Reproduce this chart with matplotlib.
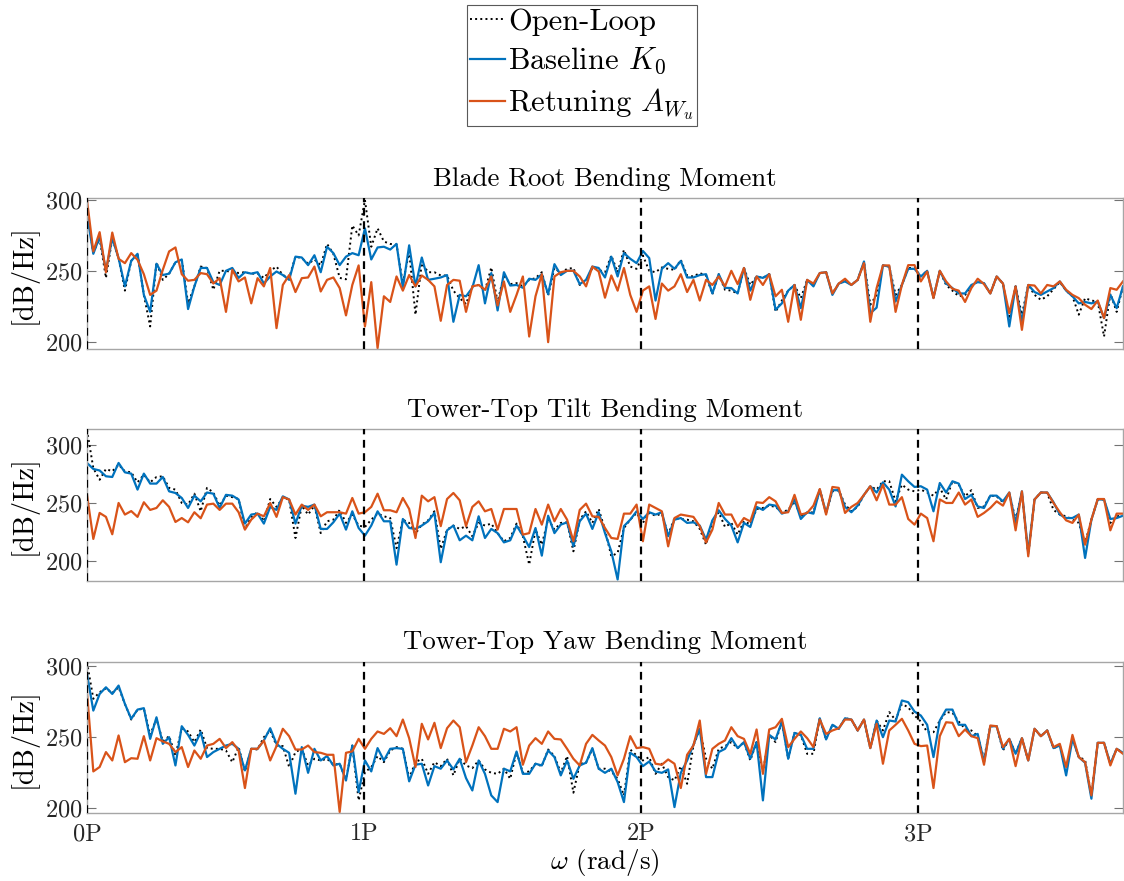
import numpy as np
import matplotlib.pyplot as plt

plt.rcParams['font.family'] = 'serif'
plt.rcParams['font.serif'] = ['cmr10']
plt.rcParams['mathtext.fontset'] = 'cm'
plt.rcParams['axes.formatter.use_mathtext'] = True

# frequency axis runs from 0P to the right edge of the plot (in multiples of P)
x_max = 3.74

# ---- Blade Root Bending Moment [dB/Hz] ----
blade_ol = [292, 263, 273, 245, 273, 259, 236, 257, 262, 233, 210.7, 256, 243.6, 248, 256, 258, 227, 239, 253, 252,
            236.6, 250, 250, 249, 248.5, 249, 248, 248, 245, 250, 253, 247, 245, 260, 259, 255, 258, 254, 269, 262,
            245, 244, 282, 275,
            300, 267, 280, 270.7, 269, 268.4, 241, 263.6, 219, 255.4, 249, 249, 246.7, 246.7, 236, 230.7, 226.5, 239,
            240, 236, 252.4, 228, 247, 240.6, 241.3, 239, 243.6, 244.8, 249, 232.6, 252, 248.4, 251.4, 252, 240, 243,
            252, 250.7, 249, 260.8, 249, 264.8, 253, 251.4, 260.8, 250, 249, 252.4, 251.4, 250.7, 257.8, 246.7, 246,
            248.4, 246.7, 233.5, 247.6, 236.6, 236, 234,
            252, 240, 246, 245, 247.6, 221, 229, 236, 240, 230.7, 243.6, 240, 248.4, 249, 234, 241, 243, 240, 243.6,
            256, 226, 233, 253.8, 253, 233, 240, 252, 252, 246, 250, 231, 250, 240, 236, 232, 233, 239, 243, 241,
            234, 246, 241, 216, 239, 219, 240, 233, 229.5, 232, 237, 242, 236, 232, 219, 230.7, 229, 228.3, 203.6,
            234, 221, 239]
blade_k0 = [290, 262, 274, 250, 273, 259, 239, 257, 262, 233, 221, 255, 247, 248, 256, 258, 223, 239, 252, 252,
            242, 240, 250, 252, 245, 249, 248, 249, 241, 246, 249.5, 247, 243.6, 260, 259.4, 254, 261, 249, 267,
            262.5, 254, 260, 262.5, 261,
            280, 258, 266.5, 267, 265, 269, 238, 268, 239, 259.4, 243.6, 244.4, 245.3, 247, 214, 233, 232, 238, 254,
            227, 248.4, 222, 249, 239.6, 240, 238, 244.4, 243.6, 247.6, 233.5, 254.7, 247, 250, 250, 240.6, 243.6,
            253, 252, 245.3, 260, 246, 262.5, 258.5, 255.4, 264, 259, 229, 251.4, 255.4, 251.4, 257, 245.3, 245.3,
            247, 247.6, 234, 247.6, 238, 237.8, 234,
            252, 236, 246, 245, 247.6, 222.5, 227, 236, 240, 223.6, 243.6, 239, 248.4, 249, 233, 241, 242.5, 240,
            243.6, 256.6, 220, 224, 253.8, 253, 228.3, 240, 251.4, 251.4, 246, 250, 231, 250, 241, 237.8, 234, 234,
            240, 242, 241.3, 234, 246, 241, 210.7, 239, 214, 240, 235, 233, 235.4, 237.8, 242.5, 236, 232, 227, 228,
            227, 228.3, 216.6, 233, 223.6, 239]
blade_aw = [300, 263.7, 277.3, 249, 277, 258.5, 255.4, 262.5, 257.8, 247.6, 233, 236, 250.7, 263.7, 266.5, 247.6,
            243, 243.6, 248.4, 247.6, 241, 244.8, 221, 250.7, 242.5, 245.3, 227, 244.8, 239, 252, 209.5, 240, 247,
            235, 244.8, 245.3, 253, 235.4, 243.6, 245.3, 237.8, 218.5, 240, 253.8,
            210.7, 242, 195.4, 232, 228, 246, 236, 247, 239, 246.7, 243.6, 239, 214.7, 240, 243.6, 243, 221, 239, 240,
            236.6, 246, 225.5, 242.5, 221, 233, 246, 203.6, 232, 247.6, 199.6, 246, 249, 250, 250, 246, 239, 253,
            249.5, 231, 246.7, 236, 252, 233, 221, 236, 239, 216, 241, 236, 239, 247.6, 235, 243.6, 229, 243.6, 240,
            246, 239, 250, 240.6,
            252, 229.5, 246, 240, 247.6, 232, 236.6, 214, 240, 215.4, 243.6, 241, 248.4, 249, 234, 241, 244.4, 240,
            243.6, 255.4, 214, 237.8, 253.8, 253.8, 221, 240, 254, 254, 242.5, 249.5, 230.7, 250, 242.5, 237.3, 236,
            228, 237.8, 244.4, 240.6, 234, 246, 241, 220, 239, 208.3, 240, 239.6, 234, 240, 239, 242.5, 236.6, 233,
            230.7, 226, 223, 229, 216.6, 237.8, 236.6, 242.5]

# ---- Tower-Top Tilt Bending Moment [dB/Hz] ----
tilt_ol = [313, 280, 270, 279.3, 277.3, 283, 277.3, 276.4, 267.8, 274.4, 267.8, 272.4, 273, 263, 261.5, 250, 248.6,
           258, 242.8, 263, 259, 247.7, 256.3, 255, 253.4, 227.6, 238, 242, 234.2, 253.4, 246.6, 254.3, 253, 219.8,
           247.7, 240, 247.7, 224, 234.2, 235.6, 244, 232.8, 240, 230.5,
           229.3, 235.6, 240.8, 238.5, 237, 211, 235.6, 232.8, 223.6, 231.3, 235, 242.8, 210.3, 227, 230.5, 227.6,
           230, 221.3, 232.8, 230.5, 232.2, 224, 217, 219.8, 232.2, 221.3, 196.8, 227, 214, 236.2, 227, 232.8, 233.3,
           208.3, 235.6, 242.8, 232.8, 244.8, 227, 204, 207, 228.4, 235.6, 241.4, 232.8, 241.4, 239, 240.8, 222.7,
           237, 236.2, 235.6, 234.2, 227.6, 214, 234.2, 242, 229.3, 232.8, 222.7,
           234.2, 231.6, 244.8, 245.7, 247.7, 246.6, 242, 244, 251.4, 238.5, 241.4, 242, 261.5, 241.4, 260, 261,
           248.6, 242.8, 246.6, 257, 264.4, 261.5, 268.7, 268.7, 251.4, 265.8, 261.5, 260, 261.5, 259, 256.3, 263,
           253, 268.7, 265.8, 255.7, 261, 245.7, 247, 256.3, 255.7, 250.6, 258.6, 235.6, 258.6, 205.5, 253, 259,
           258.6, 244, 240, 238.5, 235.6, 232.8, 215.5, 235.6, 253, 253, 232.8, 238.5, 239]
tilt_k0 = [284.5, 279.3, 278, 273, 272.4, 284.5, 276.4, 275.3, 261.5, 275.3, 266.7, 266.7, 272.4, 260, 258.6, 254.3,
           245.7, 256.3, 251.4, 259, 258, 245.7, 257, 256.3, 253, 232.2, 240, 240.8, 232.2, 246.6, 244, 255.7, 253,
           232.2, 247.7, 246.6, 248.6, 227.6, 227.6, 233.3, 240.8, 227, 242.8, 228.4,
           221.8, 230.5, 242.8, 234.2, 234.2, 196.8, 236.2, 228.4, 227.6, 230.5, 234.2, 241.4, 198.9, 226.4, 230.5,
           217.8, 221.8, 217.8, 238.5, 219.8, 227.6, 224, 216, 217.8, 230.5, 221.8, 212, 228.4, 204.6, 239, 224,
           231.3, 233.3, 212.6, 234.2, 240.8, 227.6, 242, 224, 208.3, 184, 230, 235.6, 242.8, 236.2, 242, 240, 242,
           221.3, 235.6, 237, 232.8, 233.3, 230.5, 218.4, 235, 243.7, 236.2, 230.5, 216,
           232.8, 229.3, 246.6, 244, 248.6, 247.7, 240.8, 242.8, 253, 236.2, 242, 240.8, 261.5, 241.4, 261, 261,
           246.6, 242, 247.7, 257, 264.4, 259, 267.8, 261.5, 247, 274.4, 268.7, 263.8, 264.4, 261.5, 242.8, 267.2,
           259, 268.7, 266.7, 253.4, 257, 247, 245.7, 256.3, 256.3, 251.4, 259, 232.8, 260, 206.9, 253, 259, 259,
           250.6, 240, 237, 237, 240, 202.6, 235.6, 253, 253, 236.2, 237, 239]
tilt_aw = [257, 219, 241.4, 238, 223, 250, 240, 243, 238, 250.6, 244, 245.7, 252.3, 246.6, 233.6, 237, 233.3, 242,
           236.8, 248.6, 249.4, 244, 249.4, 249.4, 242, 227, 235.6, 240.8, 238.5, 250, 238, 255, 253, 240, 248.6,
           244, 248.6, 238.5, 242, 242, 242, 240.8, 254.3, 240.8,
           242, 246.6, 258, 243.7, 243.7, 242, 254.3, 244.8, 219.8, 256.3, 251.4, 255, 230, 253.4, 258.6, 252.3, 230,
           246.6, 251.4, 242.8, 244.8, 227, 244.8, 244.8, 244.8, 222.7, 224, 244.8, 231.3, 248.6, 234.2, 244.8,
           235.6, 217, 244, 249.4, 238.5, 238, 228.4, 219.8, 219, 240.8, 240.8, 248.6, 217, 248.6, 245.7, 242.8,
           212.6, 237, 240, 239, 238, 230, 216, 227, 250, 240, 240, 229.3,
           237, 234, 250.6, 250, 255, 251.4, 241.4, 242, 257, 240, 241.4, 247.7, 262, 240, 263.8, 263, 241.4, 246.6,
           250, 257, 264.4, 252.3, 265.8, 248.6, 248.6, 255, 236.2, 231.3, 240.8, 237, 217, 253, 250, 250, 259,
           248.6, 253, 238, 241.4, 245.7, 251.4, 247.7, 259, 226.4, 260, 204, 253, 259, 259, 250, 242, 235, 232.8,
           240, 214, 235.6, 253.4, 253.4, 226.4, 240.8, 240.8]

# ---- Tower-Top Yaw Bending Moment [dB/Hz] ----
yaw_ol = [302.7, 277, 281.6, 284.4, 281.1, 285.1, 273.4, 262.4, 269.4, 270, 251.6, 262.9, 247, 250.7, 237.1, 256.3,
          254, 246.5, 255.4, 242.3, 241.8, 241.8, 240.6, 232.4, 243, 225.9, 241.8, 241.3, 250, 254.7, 244.1, 243.7,
          229, 239.5, 241.8, 230.1, 234.8, 233.6, 234.8, 230.6, 231.3, 219.6, 244.1, 205.5,
          225.4, 228.9, 236.7, 232.4, 240.6, 243, 241.8, 221.2, 232.4, 234.8, 224.2, 232.4, 229.6, 234.8, 223.1,
          234.8, 230.1, 228.2, 233.6, 227.3, 224.9, 224.2, 227.8, 220.7, 239.5, 224.9, 225.9, 231.3, 229.6, 241.3,
          236.7, 224.9, 236.7, 210.9, 231.3, 232, 241.8, 227.8, 227.8, 225.9, 220.7, 209, 241.3, 237.1, 233.6, 236,
          224.2, 231.3, 221.9, 219.6, 229.6, 217.2, 244.1, 255.9, 234.8, 227.8, 241.8, 243.7, 246.5, 242.3,
          246.5, 233.6, 246.5, 225.4, 251.6, 246.5, 261, 234.8, 253, 251.6, 238.3, 238.3, 263.3, 248.4, 258.7,
          255.9, 263.3, 262.4, 254.7, 262.4, 242.3, 261.7, 254.7, 267.6, 262, 273.4, 271, 265.2, 261, 253.5, 253.5,
          261.7, 267.6, 267.2, 261, 255.9, 254.7, 250.7, 234.8, 257.7, 257.7, 240.6, 248.8, 238.3, 249.3, 233.6,
          255.9, 250.7, 254.7, 242.3, 244.1, 226, 248.8, 236, 234, 209, 246, 246, 231.3, 241.8, 239]
yaw_k0 = [294.5, 268.7, 280.4, 285.1, 280.4, 286.3, 273.4, 262.9, 269.4, 270.4, 248.8, 264, 245.3, 250, 230.1, 257.7,
          251.6, 244.1, 253.5, 236, 239.5, 241.8, 244.1, 245.3, 241.8, 226.6, 241.8, 241.8, 247.7, 256.3, 245.3,
          241.8, 239, 210.2, 243, 224.9, 241.8, 233.6, 236.7, 230.1, 231.3, 219.6, 244.1, 211.4,
          233.6, 225.9, 242.3, 233.6, 241.8, 242.3, 241.8, 218.9, 230.6, 231.3, 216, 229.6, 227.8, 233.6, 227.3,
          234.8, 221.2, 212.5, 233.6, 224.2, 209, 204.3, 227.8, 225.9, 239.9, 224.2, 224.2, 231.3, 230.1, 240.6, 236,
          223.1, 233.6, 220.7, 230.1, 232, 242.3, 227.8, 224.9, 227.8, 218.4, 204.3, 239, 236, 229.6, 232.9, 225.9,
          224.9, 227.3, 200.8, 224.9, 233.6, 244.6, 255.9, 221.9, 221.9, 239.5, 241.8, 249.3, 242.3,
          246.5, 234.8, 246.5, 205.5, 251.6, 248.4, 261, 234.8, 253, 251.6, 241.8, 241.8, 263.3, 248.4, 258.7, 255.9,
          263.3, 262.4, 254.7, 262.4, 242.3, 261.7, 250, 261.7, 261, 275.8, 274.6, 268, 265.2, 258.7, 236, 261.7,
          269.4, 269.4, 258.7, 258.7, 250.7, 252.3, 232.4, 257.7, 257.7, 241.8, 248.8, 238.3, 249.3, 233.6, 255.9,
          250.7, 254.7, 242.3, 244.1, 223.1, 248.8, 236, 232, 206.7, 246, 246, 231.3, 241.8, 239]
yaw_aw = [281.6, 225.9, 229, 239.5, 233.6, 251.2, 232.4, 235.2, 234.8, 250.7, 233.6, 249.3, 247, 245.3, 239.5, 243,
          229, 240.6, 234.8, 244.1, 245.3, 248.8, 242.3, 246.5, 240.6, 214.2, 241.8, 241.8, 247.7, 233.6, 243.7,
          255.9, 250.7, 241.3, 241.3, 244.1, 239.5, 239, 237.6, 237.6, 197.3, 239, 240, 248.8,
          241.8, 248.8, 254, 252.3, 256.3, 250.7, 262.4, 249.3, 229, 259.4, 248.4, 260.1, 242.3, 256.3, 261.7, 257,
          232.4, 244.1, 257, 250.7, 241.8, 241.8, 255.9, 254, 257, 230.6, 244.1, 249.3, 245.3, 254, 248.8, 248.4,
          241.8, 234.8, 230.1, 245.3, 251.6, 247.7, 244.1, 236, 223.1, 234.8, 250.7, 242.3, 243, 241.8, 231.3, 230.6,
          234.3, 231.3, 214.2, 237.6, 244.1, 261.7, 224.2, 241.8, 245.3, 247.7, 257, 250.7,
          248.8, 238.3, 255.4, 224.2, 255.4, 257, 262.9, 243, 248.8, 254, 249.3, 243, 262.4, 252.3, 254.7, 256.3,
          262.4, 262.4, 254.7, 262.4, 242.3, 259.4, 231.3, 254.7, 258.7, 262.9, 254.7, 245.3, 243.7, 244.1, 214.2,
          250.7, 260.5, 260.1, 250.7, 255.4, 250.7, 249.3, 230.6, 258.2, 257.7, 243, 248.8, 229.6, 249.3, 233.6,
          255.9, 250.7, 254.7, 243, 245.3, 229, 251.6, 236, 232.4, 209, 246, 246, 230.1, 241.8, 238.3]

titles = ['Blade Root Bending Moment', 'Tower-Top Tilt Bending Moment', 'Tower-Top Yaw Bending Moment']
panels = [(blade_ol, blade_k0, blade_aw), (tilt_ol, tilt_k0, tilt_aw), (yaw_ol, yaw_k0, yaw_aw)]
ylims = [(194.8, 301.2), (183.0, 313.5), (196.4, 302.9)]
harmonics = [0, 1, 2, 3]
harm_labels = ['0P', '1P', '2P', '3P']
series_labels = ['Open-Loop', r'Baseline $K_0$', r'Retuning $A_{W_u}$']

c_blue = '#0072BD'
c_orange = '#D95319'

fig = plt.figure(figsize=(11.24, 8.81), dpi=100)

# axes boxes (left, bottom, width, height) in figure fractions
boxes = [(0.0774, 0.6039, 0.9217, 0.1710),
         (0.0774, 0.3409, 0.9217, 0.1718),
         (0.0774, 0.0768, 0.9217, 0.1718)]

handles = []
for k, (box, (ol, k0, aw)) in enumerate(zip(boxes, panels)):
    ax = fig.add_axes(box)
    h1, = ax.plot(np.linspace(0, x_max, len(ol)), ol, color='k', ls=':', lw=1.4)
    h2, = ax.plot(np.linspace(0, x_max, len(k0)), k0, color=c_blue, lw=1.6)
    h3, = ax.plot(np.linspace(0, x_max, len(aw)), aw, color=c_orange, lw=1.6)
    if k == 0:
        handles = [h1, h2, h3]
    for h in harmonics:
        ax.axvline(h, color='k', ls=(0, (3.5, 2.5)), lw=1.6, zorder=4)

    ax.set_xlim(0, x_max)
    ax.set_ylim(*ylims[k])
    ax.set_yticks([200, 250, 300])
    ax.set_xticks(harmonics)
    if k == 2:
        ax.set_xticklabels(harm_labels)
        ax.set_xlabel(r'$\omega$ (rad/s)', fontsize=19.5)
        ax.xaxis.set_label_coords(0.5, -0.225)
    else:
        ax.set_xticklabels([])
    ax.tick_params(axis='y', direction='in', length=6.5, width=0.8, color='0.45',
                   right=True, labelsize=17.5, pad=3, labelcolor='0.15')
    ax.tick_params(axis='x', direction='in', length=0, labelsize=17.5, pad=7, labelcolor='0.15')
    for s in ax.spines.values():
        s.set_color('0.65')
        s.set_linewidth(1.0)
    ax.set_ylabel('[dB/Hz]', fontsize=20.5)
    ax.yaxis.set_label_coords(-0.048, 0.5)
    ax.set_title(titles[k], fontsize=19.3, pad=9)

leg = fig.legend(handles, series_labels, loc='upper center', bbox_to_anchor=(582 / 1124, 1 - 5 / 881),
                 fontsize=22, frameon=True, fancybox=False, edgecolor='0.35', framealpha=1,
                 handlelength=1.15, handletextpad=0.08, labelspacing=0.32, borderpad=0.12, borderaxespad=0)
leg.get_frame().set_linewidth(0.8)

fig.savefig('out.png', dpi=100)
